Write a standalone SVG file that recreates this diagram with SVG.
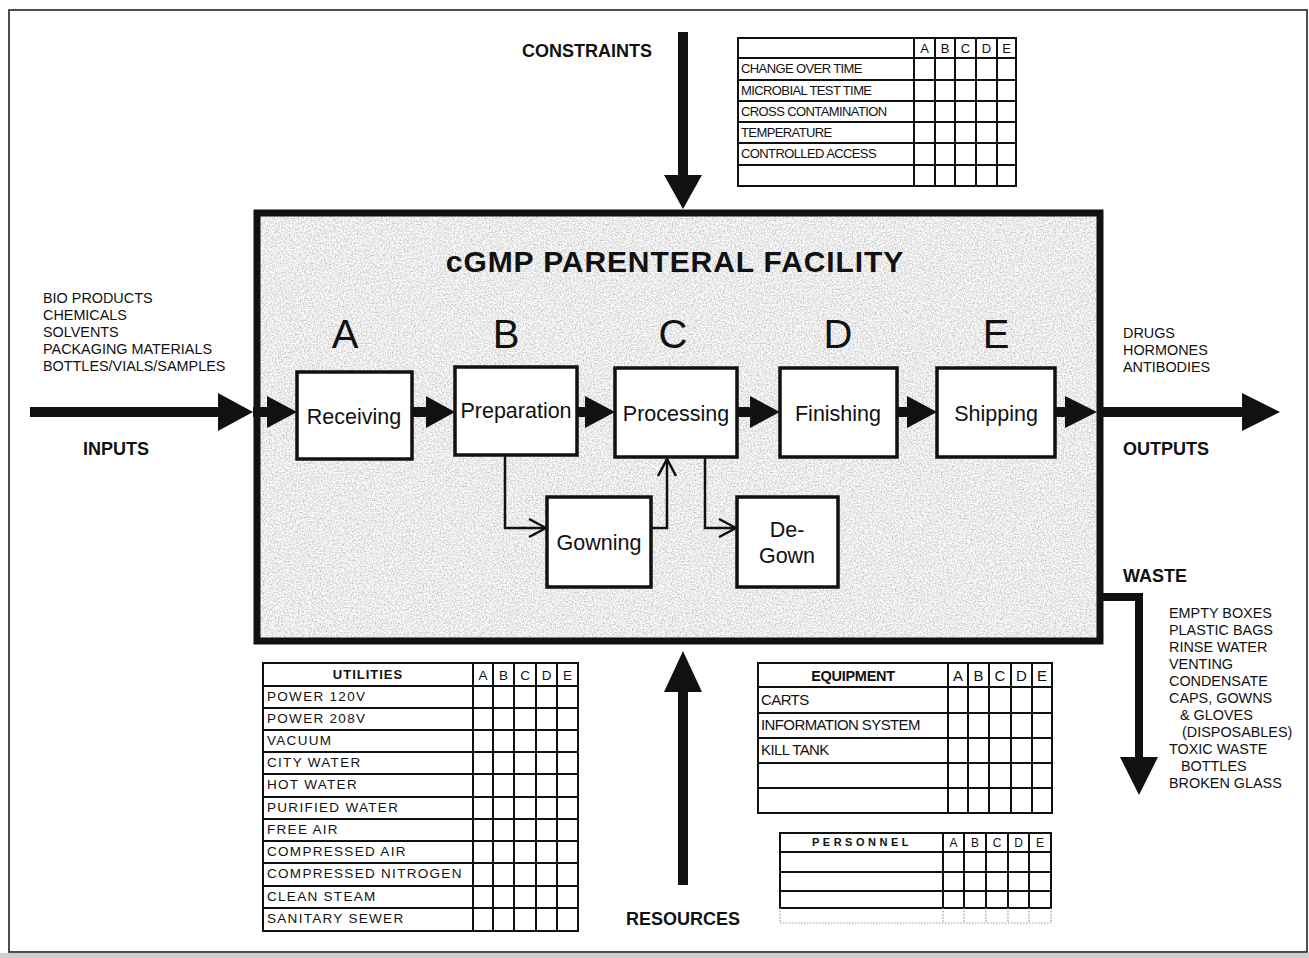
<svg xmlns="http://www.w3.org/2000/svg" width="1309" height="958" viewBox="0 0 1309 958">
<style>
text{font-family:"Liberation Sans",Arial,Helvetica,sans-serif;fill:#111}
.cap{font-size:18px;font-weight:bold}
.list{font-size:14.4px}
.lbl{font-size:21.5px;text-anchor:middle}
.big{font-size:40px;text-anchor:middle}
.box{fill:#fff;stroke:#111;stroke-width:3.5}
.grid{fill:none;stroke:#111;stroke-width:2}
.ct{font-size:13px;letter-spacing:-0.6px}
.ut{font-size:13.5px;letter-spacing:1.3px}
.et{font-size:15px;letter-spacing:-0.6px}
.hd{text-anchor:middle}
.thin{fill:none;stroke:#111;stroke-width:2.5;marker-end:url(#open)}
.thick{fill:#111}
.dot{stroke:#999;stroke-width:1.2;stroke-dasharray:1.5 1.5;fill:none}
</style>
<defs>
<filter id="grain" x="0" y="0" width="1" height="1">
<feTurbulence type="fractalNoise" baseFrequency="0.65" numOctaves="2" seed="5"/>
<feColorMatrix type="matrix" values="0.9 0 0 0 0.38  0.9 0 0 0 0.38  0.9 0 0 0 0.38  0 0 0 0 1"/>
</filter>
<marker id="open" viewBox="0 0 20 20" refX="18" refY="10" markerWidth="20" markerHeight="20" markerUnits="userSpaceOnUse" orient="auto">
<path d="M1,1 L18,10 L1,19" fill="none" stroke="#111" stroke-width="2.5"/>
</marker>
</defs>
<rect x="0" y="0" width="1309" height="958" fill="#fff"/>
<rect x="0" y="953" width="1309" height="5" fill="#cfcfcf"/>
<rect x="9" y="10" width="1298" height="942" fill="none" stroke="#222" stroke-width="1.6"/>

<g id="facility">
<rect x="257" y="213" width="843" height="428" fill="#d8d8d8" filter="url(#grain)"/>
<rect x="257" y="213" width="843" height="428" fill="none" stroke="#111" stroke-width="7"/>
<text x="675" y="272" text-anchor="middle" style="font-size:30px;font-weight:bold;letter-spacing:0.9px">cGMP PARENTERAL FACILITY</text>
<text x="345" y="348" class="big">A</text>
<text x="506" y="348" class="big">B</text>
<text x="673" y="348" class="big">C</text>
<text x="838" y="348" class="big">D</text>
<text x="996" y="348" class="big">E</text>
</g>

<g id="receiving"><rect x="297" y="372" width="115" height="87" class="box"/><text x="354" y="424" class="lbl">Receiving</text></g>
<g id="preparation"><rect x="455" y="367" width="122" height="88" class="box"/><text x="516" y="418" class="lbl">Preparation</text></g>
<g id="processing"><rect x="615" y="368" width="122" height="89" class="box"/><text x="676" y="421" class="lbl">Processing</text></g>
<g id="finishing"><rect x="780" y="368" width="117" height="89" class="box"/><text x="838" y="421" class="lbl">Finishing</text></g>
<g id="shipping"><rect x="937" y="368" width="118" height="89" class="box"/><text x="996" y="421" class="lbl">Shipping</text></g>
<g id="gowning"><rect x="547" y="497" width="104" height="90" class="box"/><text x="599" y="550" class="lbl">Gowning</text></g>
<g id="degown"><rect x="737" y="497" width="101" height="90" class="box"/><text x="787" y="537" class="lbl">De-</text><text x="787" y="563" class="lbl">Gown</text></g>

<g id="connectors">
<rect x="30" y="407" width="190" height="10" class="thick"/>
<polygon points="218,393 253,412 218,431" class="thick"/>
<rect x="253" y="407" width="16" height="10" class="thick"/>
<polygon points="267,396 297,412 267,428" class="thick"/>
<rect x="411" y="407" width="17" height="10" class="thick"/>
<polygon points="426,396 455,412 426,428" class="thick"/>
<rect x="576" y="407" width="11" height="10" class="thick"/>
<polygon points="585,396 615,412 585,428" class="thick"/>
<rect x="736" y="407" width="16" height="10" class="thick"/>
<polygon points="750,396 780,412 750,428" class="thick"/>
<rect x="896" y="407" width="13" height="10" class="thick"/>
<polygon points="907,396 937,412 907,428" class="thick"/>
<rect x="1054" y="407" width="13" height="10" class="thick"/>
<polygon points="1065,396 1097,412 1065,428" class="thick"/>
<rect x="1100" y="407" width="144" height="10" class="thick"/>
<polygon points="1242,393 1280,412 1242,431" class="thick"/>
<rect x="678" y="32" width="10" height="145" class="thick"/>
<polygon points="664,175 683,209 702,175" class="thick"/>
<polygon points="664,692 683,651 702,692" class="thick"/>
<rect x="678" y="690" width="10" height="195" class="thick"/>
<path d="M1100,597 H1139 V760" fill="none" stroke="#111" stroke-width="8" stroke-linejoin="miter"/>
<polygon points="1120,757 1139,795 1158,757" class="thick"/>
<path d="M505,456 V528 H546" class="thin"/>
<path d="M652,528 H667 V459" class="thin"/>
<path d="M705,458 V528 H736" class="thin"/>
</g>

<g id="labels">
<text x="522" y="57" class="cap">CONSTRAINTS</text>
<text x="83" y="455" class="cap">INPUTS</text>
<text x="1123" y="455" class="cap">OUTPUTS</text>
<text x="1123" y="582" class="cap">WASTE</text>
<text x="626" y="925" class="cap">RESOURCES</text>
</g>

<g id="inputs-list">
<text x="43" y="303" class="list">BIO PRODUCTS</text>
<text x="43" y="320" class="list">CHEMICALS</text>
<text x="43" y="337" class="list">SOLVENTS</text>
<text x="43" y="354" class="list">PACKAGING MATERIALS</text>
<text x="43" y="371" class="list">BOTTLES/VIALS/SAMPLES</text>
</g>

<g id="outputs-list">
<text x="1123" y="338" class="list">DRUGS</text>
<text x="1123" y="355" class="list">HORMONES</text>
<text x="1123" y="372" class="list">ANTIBODIES</text>
</g>

<g id="waste-list">
<text x="1169" y="618" class="list">EMPTY BOXES</text>
<text x="1169" y="635" class="list">PLASTIC BAGS</text>
<text x="1169" y="652" class="list">RINSE WATER</text>
<text x="1169" y="669" class="list">VENTING</text>
<text x="1169" y="686" class="list">CONDENSATE</text>
<text x="1169" y="703" class="list">CAPS, GOWNS</text>
<text x="1180" y="720" class="list">&amp; GLOVES</text>
<text x="1182" y="737" class="list">(DISPOSABLES)</text>
<text x="1169" y="754" class="list">TOXIC WASTE</text>
<text x="1181" y="771" class="list">BOTTLES</text>
<text x="1169" y="788" class="list">BROKEN GLASS</text>
</g>

<g id="constraints-table">
<rect x="738" y="38" width="278" height="148" class="grid"/>
<path class="grid" d="M914,38V186M935,38V186M955,38V186M976,38V186M997,38V186M738,58H1016M738,80H1016M738,101H1016M738,122H1016M738,143H1016M738,165H1016"/>
<g style="font-size:13px">
<text x="924.5" y="53" class="hd">A</text><text x="945" y="53" class="hd">B</text><text x="965.5" y="53" class="hd">C</text><text x="986.5" y="53" class="hd">D</text><text x="1006.5" y="53" class="hd">E</text>
</g>
<text x="741" y="73" class="ct">CHANGE OVER TIME</text>
<text x="741" y="95" class="ct">MICROBIAL TEST TIME</text>
<text x="741" y="116" class="ct">CROSS CONTAMINATION</text>
<text x="741" y="137" class="ct">TEMPERATURE</text>
<text x="741" y="158" class="ct">CONTROLLED ACCESS</text>
</g>

<g id="utilities-table">
<rect x="263" y="663" width="315" height="268" class="grid"/>
<path class="grid" d="M473,663V931M493,663V931M514,663V931M536,663V931M557,663V931M263,686H578M263,708H578M263,730H578M263,752H578M263,774H578M263,797H578M263,819H578M263,841H578M263,863H578M263,886H578M263,908H578"/>
<text x="368" y="679" class="hd" style="font-size:13px;font-weight:bold;letter-spacing:1px">UTILITIES</text>
<g style="font-size:13.5px">
<text x="483" y="680" class="hd">A</text><text x="503.5" y="680" class="hd">B</text><text x="525" y="680" class="hd">C</text><text x="546.5" y="680" class="hd">D</text><text x="567.5" y="680" class="hd">E</text>
</g>
<text x="267" y="701" class="ut">POWER 120V</text>
<text x="267" y="723" class="ut">POWER 208V</text>
<text x="267" y="745" class="ut">VACUUM</text>
<text x="267" y="767" class="ut">CITY WATER</text>
<text x="267" y="789" class="ut">HOT WATER</text>
<text x="267" y="812" class="ut">PURIFIED WATER</text>
<text x="267" y="834" class="ut">FREE AIR</text>
<text x="267" y="856" class="ut">COMPRESSED AIR</text>
<text x="267" y="878" class="ut">COMPRESSED NITROGEN</text>
<text x="267" y="901" class="ut">CLEAN STEAM</text>
<text x="267" y="923" class="ut">SANITARY SEWER</text>
</g>

<g id="equipment-table">
<rect x="758" y="663" width="294" height="150" class="grid"/>
<path class="grid" d="M948,663V813M968,663V813M989,663V813M1011,663V813M1032,663V813M758,687H1052M758,713H1052M758,738H1052M758,763H1052M758,788H1052"/>
<text x="853" y="681" class="hd" style="font-size:14.5px;font-weight:bold;letter-spacing:-0.3px">EQUIPMENT</text>
<g style="font-size:15px">
<text x="958" y="681" class="hd">A</text><text x="978.5" y="681" class="hd">B</text><text x="1000" y="681" class="hd">C</text><text x="1021.5" y="681" class="hd">D</text><text x="1042" y="681" class="hd">E</text>
</g>
<text x="761" y="705" class="et">CARTS</text>
<text x="761" y="730" class="et">INFORMATION SYSTEM</text>
<text x="761" y="755" class="et">KILL TANK</text>
</g>

<g id="personnel-table">
<rect x="780" y="833" width="271" height="75" class="grid"/>
<path class="grid" d="M943,833V908M964,833V908M986,833V908M1008,833V908M1029,833V908M780,852H1051M780,872H1051M780,891H1051"/>
<path class="dot" d="M780,908V923M943,908V923M964,908V923M986,908V923M1008,908V923M1029,908V923M1051,908V923M780,923H1051"/>
<text x="812" y="846" style="font-size:11px;font-weight:bold;letter-spacing:3.5px">PERSONNEL</text>
<g style="font-size:12px">
<text x="953.5" y="847" class="hd">A</text><text x="975" y="847" class="hd">B</text><text x="997" y="847" class="hd">C</text><text x="1018.5" y="847" class="hd">D</text><text x="1040" y="847" class="hd">E</text>
</g>
</g>
</svg>
